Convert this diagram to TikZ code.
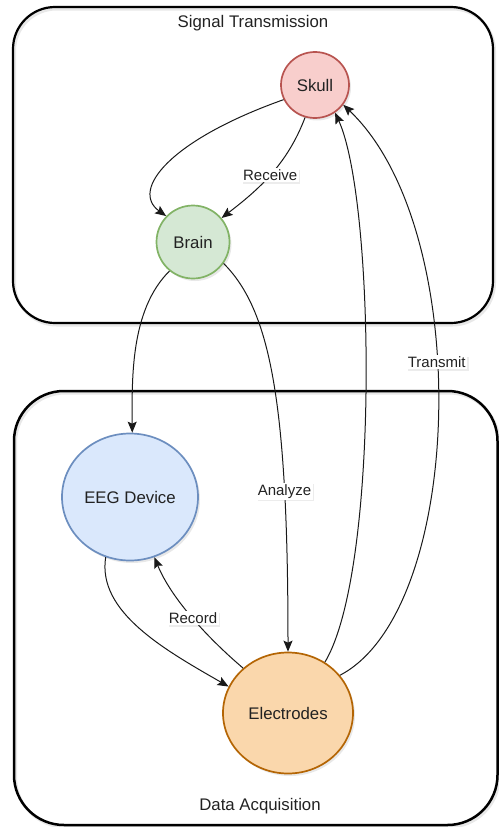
\documentclass[tikz,border=0pt]{standalone}
\usepackage{fontspec}
\setmainfont{Liberation Sans}
\usetikzlibrary{arrows.meta,shadows,shapes.geometric}

\definecolor{skullfill}{HTML}{F8CECC}
\definecolor{skullline}{HTML}{B85450}
\definecolor{brainfill}{HTML}{D5E8D4}
\definecolor{brainline}{HTML}{82B366}
\definecolor{eegfill}{HTML}{DAE8FC}
\definecolor{eegline}{HTML}{6C8EBF}
\definecolor{elecfill}{HTML}{FAD7AC}
\definecolor{elecline}{HTML}{B46504}
\definecolor{txt}{HTML}{222222}

\tikzset{
  groupbox/.style={draw=black, line width=2.2pt},
  groupshade/.style={draw=gray!60, line width=3pt, opacity=0.3},
  grouptitle/.style={font=\fontsize{16.8pt}{19pt}\selectfont, text=txt},
  entity/.style={ellipse, line width=1.7pt, text=txt,
    font=\fontsize{16.8pt}{19pt}\selectfont,
    drop shadow={opacity=0.18, shadow xshift=2pt, shadow yshift=-2.5pt}},
  flow/.style={line width=1pt, draw=black!90,
    -{Stealth[length=11pt, width=9pt, inset=2pt]}},
  tag/.style={fill=white, text=txt, inner sep=1.5pt,
    font=\fontsize{15pt}{17pt}\selectfont,
    drop shadow={opacity=0.15, shadow xshift=1.5pt, shadow yshift=-1.5pt}}
}

\begin{document}
\begin{tikzpicture}[x=1pt, y=-1pt]
\useasboundingbox (0,0) rectangle (498,827);

% group frames
\draw[groupshade, rounded corners=42pt] (14.5,9) rectangle (494.5,325);
\draw[groupbox, rounded corners=42pt] (13,7) rectangle (493,323);
\node[grouptitle] (titletop) at (253,23) {Signal Transmission};

\draw[groupshade, rounded corners=50pt] (15.5,393) rectangle (499,827);
\draw[groupbox, line width=2.5pt, rounded corners=50pt] (14,391) rectangle (497.5,825);
\node[grouptitle] (titlebottom) at (260,806) {Data Acquisition};

% entities
\node[entity, fill=skullfill, draw=skullline, minimum width=68pt, minimum height=66pt, inner sep=0pt] (skull) at (315,85) {Skull};
\node[entity, fill=brainfill, draw=brainline, minimum width=73pt, minimum height=73pt, inner sep=0pt] (brain) at (193,242) {Brain};
\node[entity, fill=eegfill, draw=eegline, minimum width=136pt, minimum height=127pt, inner sep=0pt] (eeg) at (130,497) {EEG Device};
\node[entity, fill=elecfill, draw=elecline, minimum width=130pt, minimum height=121pt, inner sep=0pt] (elec) at (288,713) {Electrodes};

% connectors
\draw[flow] (skull.205) .. controls (170,140) and (130,190) .. (brain.136);
\draw[flow] (skull.253) .. controls (287,165) and (258,190) .. node[tag, pos=0.5] (lreceive) {Receive} (brain.40);
\draw[flow] (brain.231) .. controls (130,310) and (132,380) .. (eeg.88);
\draw[flow] (brain.325) .. controls (270,310) and (288,400) .. node[tag, pos=0.75] (lanalyze) {Analyze} (elec.north);
\draw[flow] (eeg.248) .. controls (97,612) and (165,650) .. (elec.156);
\draw[flow] (elec.135) .. controls (210,640) and (172,600) .. node[tag, pos=0.5] (lrecord) {Record} (eeg.292);
\draw[flow] (elec.54) .. controls (380,570) and (375,200) .. (skull.306);
\draw[flow] (elec.36) .. controls (465,610) and (475,230) .. node[tag, pos=0.57] (ltransmit) {Transmit} (skull.325);

\end{tikzpicture}
\end{document}
